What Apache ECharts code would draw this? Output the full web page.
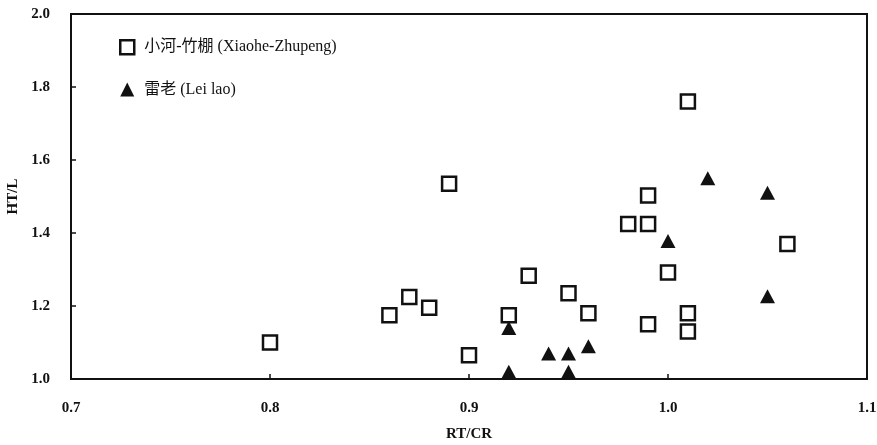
<!DOCTYPE html>
<html>
<head>
<meta charset="utf-8">
<script src="https://cdn.jsdelivr.net/npm/echarts@6/dist/echarts.min.js"></script>
<style>
  html, body { margin: 0; padding: 0; background: #fff; }
  #chart { width: 877px; height: 445px; }
</style>
</head>
<body>
<div id="chart"></div>
<script>
// 小河-竹棚 (Xiaohe-Zhupeng): [RT/CR, HT/L]
const xiaoheX = [0.80, 0.86, 0.87, 0.88, 0.89, 0.90, 0.92, 0.93, 0.95, 0.96, 0.98, 0.99, 0.99, 0.99, 1.00, 1.01, 1.01, 1.01, 1.06];
const xiaoheY = [1.10, 1.175, 1.225, 1.195, 1.535, 1.065, 1.175, 1.283, 1.235, 1.18, 1.425, 1.425, 1.503, 1.15, 1.292, 1.76, 1.18, 1.13, 1.37];

// 雷老 (Lei lao)
const leilaoX = [0.92, 0.92, 0.94, 0.95, 0.95, 0.96, 1.00, 1.02, 1.05, 1.05];
const leilaoY = [1.14, 1.02, 1.07, 1.07, 1.02, 1.09, 1.378, 1.55, 1.51, 1.227];

const seriesNames = ['小河-竹棚 (Xiaohe-Zhupeng)', '雷老 (Lei lao)'];

const pairs = (xs, ys) => xs.map((x, i) => [x, ys[i]]);

const font = '"Liberation Serif", "Noto Sans CJK SC", serif';
const black = '#111';

const chart = echarts.init(document.getElementById('chart'));

const axisCommon = {
    axisLine: { show: true, lineStyle: { color: black, width: 2 } },
    axisTick: { show: true, inside: true, length: 5, lineStyle: { color: black, width: 1.5 } },
    splitLine: { show: false },
    axisLabel: { color: black, fontFamily: font, fontWeight: 'bold', fontSize: 15 },
    nameTextStyle: { color: black, fontFamily: font, fontWeight: 'bold', fontSize: 15 }
};

const option = {
    backgroundColor: '#fff',
    animation: false,
    grid: {
        left: 71, right: 10, top: 14, bottom: 66,
        outerBoundsMode: 'none',
        show: true, borderColor: black, borderWidth: 2
    },
    legend: {
        left: 114,
        top: 34,
        orient: 'vertical',
        itemGap: 26,
        itemWidth: 14,
        itemHeight: 14,
        textStyle: { color: black, fontFamily: font, fontSize: 16, padding: [0, 0, 0, 5] },
        data: [
            { name: seriesNames[0], icon: 'rect', itemStyle: { color: '#fff', borderColor: black, borderWidth: 2.5 } },
            { name: seriesNames[1], icon: 'triangle', itemStyle: { color: black } }
        ]
    },
    xAxis: Object.assign({}, axisCommon, {
        type: 'value',
        min: 0.7,
        max: 1.1,
        interval: 0.1,
        name: 'RT/CR',
        nameLocation: 'middle',
        nameGap: 48,
        axisLabel: Object.assign({}, axisCommon.axisLabel, {
            margin: 22,
            formatter: v => v.toFixed(1)
        })
    }),
    yAxis: Object.assign({}, axisCommon, {
        type: 'value',
        min: 1.0,
        max: 2.0,
        interval: 0.2,
        name: 'HT/L',
        nameLocation: 'middle',
        nameGap: 50,
        nameRotate: 90,
        axisLabel: Object.assign({}, axisCommon.axisLabel, {
            margin: 21,
            formatter: v => v.toFixed(1)
        })
    }),
    series: [
        {
            name: seriesNames[0],
            type: 'scatter',
            symbol: 'rect',
            symbolSize: 14,
            itemStyle: { color: '#fff', borderColor: black, borderWidth: 2.5, opacity: 1 },
            data: pairs(xiaoheX, xiaoheY)
        },
        {
            name: seriesNames[1],
            type: 'scatter',
            symbol: 'triangle',
            symbolSize: [15, 14],
            itemStyle: { color: black, opacity: 1 },
            data: pairs(leilaoX, leilaoY)
        }
    ]
};

chart.setOption(option);
</script>
</body>
</html>
